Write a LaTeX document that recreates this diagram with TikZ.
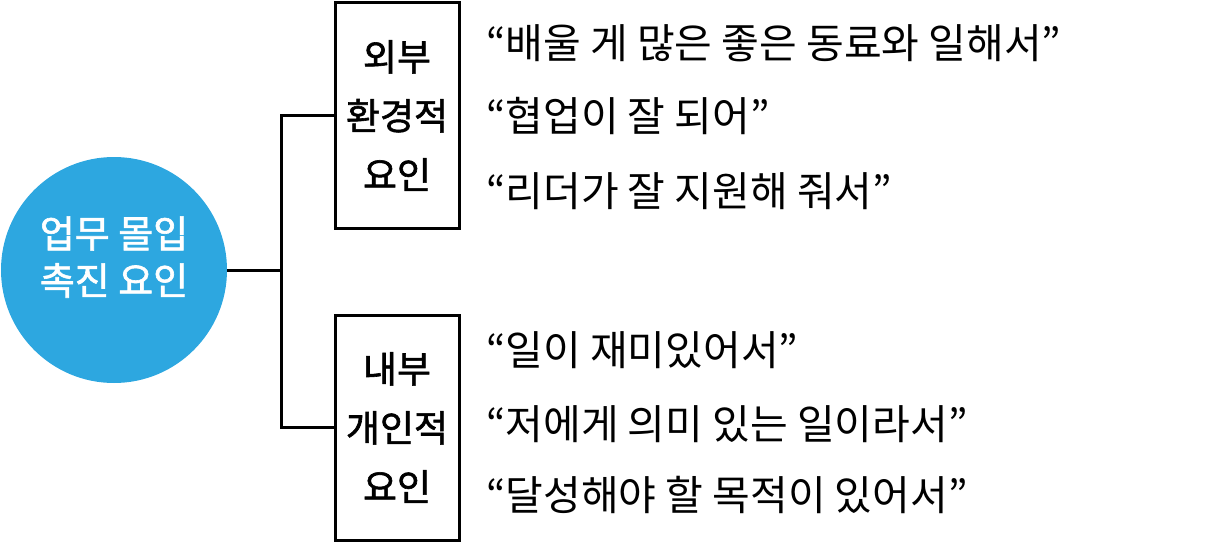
\documentclass[tikz,border=0pt]{standalone}
\usepackage{fontspec}
\setmainfont{Noto Sans CJK KR}
\newfontface\medfont{Noto Sans CJK KR}[FakeBold=1.6]
\usepackage{tikz}
\definecolor{circblue}{HTML}{2DA7E0}
\tikzset{factorbox/.style={draw, line width=3pt, minimum width=124pt, minimum height=225pt,
                           align=center, font=\medfont\fontsize{37}{59}\selectfont},
         quote/.style={anchor=west, inner sep=0pt, font=\fontsize{41}{45}\selectfont}}

\begin{document}
\begin{tikzpicture}[x=1pt, y=-1pt]
            \useasboundingbox (0,0) rectangle (1230,543);
            \node (circ) at (114,270) [circle, fill=circblue, minimum size=226pt, inner sep=0pt] {};
            \node (circtext) at (114,257) [text=white, align=center, font=\medfont\fontsize{38}{47}\selectfont] {업무 몰입\\촉진 요인};

                    \node (ext) at (397,115.5) [factorbox] {외부\\환경적\\요인};
                    \node (int) at (397,427.5) [factorbox] {내부\\개인적\\요인};

                    \coordinate (fork) at (281,270);
                    \draw[line width=3pt] (circ.east) -- (fork);
                    \draw[line width=3pt] (fork) |- (ext.west);
                    \draw[line width=3pt] (fork) |- (int.west);

                    \node (q1) at (486,43) [quote] {“배울 게 많은 좋은 동료와 일해서”};
                    \node (q2) at (486,116) [quote] {“협업이 잘 되어”};
                    \node (q3) at (486,191) [quote] {“리더가 잘 지원해 줘서”};

                    \node (q4) at (486,350) [quote] {“일이 재미있어서”};
                    \node (q5) at (486,424) [quote] {“저에게 의미 있는 일이라서”};
                    \node (q6) at (486,495) [quote] {“달성해야 할 목적이 있어서”};
        \end{tikzpicture}
\end{document}
